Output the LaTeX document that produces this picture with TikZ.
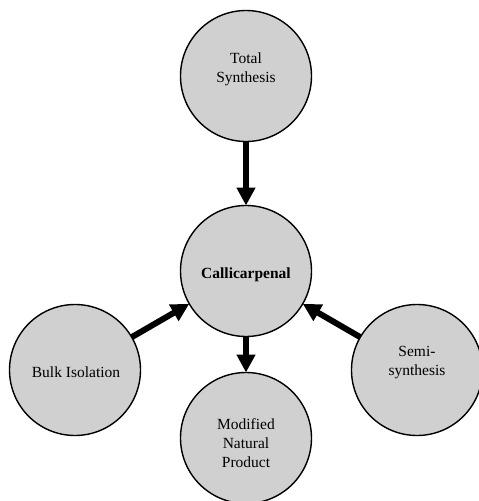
\documentclass[tikz,border=0pt]{standalone}
\usepackage{fontspec}
\setmainfont{Liberation Serif}
\usetikzlibrary{arrows.meta}
\definecolor{bubble}{RGB}{208,208,208}
\tikzset{
  bubble/.style={circle, draw=black, line width=1.4pt, fill=bubble, minimum size=131pt, inner sep=0pt, outer sep=0pt},
  lbl/.style={align=center, font=\fontsize{15.5}{19}\selectfont, inner sep=0pt},
  flow/.style={line width=6pt, -{Triangle[width=18pt,length=18pt]}}
}
\begin{document}
\begin{tikzpicture}[x=1pt,y=-1pt]
\useasboundingbox (0,0) rectangle (479,501);
\node[bubble] (ts) at (246,76) {};
\node[bubble] (cc) at (246,271) {};
\node[bubble] (bi) at (75,370) {};
\node[bubble] (ss) at (417,370) {};
\node[bubble] (mn) at (246,438) {};
\node[lbl] (tst) at (246,69) {Total\\Synthesis};
\node[lbl] (cct) at (246,275) {\textbf{Callicarpenal}};
\node[lbl] (bit) at (76,372) {Bulk Isolation};
\node[lbl] (sst) at (417,363) {Semi-\\synthesis};
\node[lbl] (mnt) at (246,443) {Modified\\Natural\\Product};
\draw[flow] (ts) -- (cc);
\draw[flow] (cc) -- (mn);
\draw[flow] (bi) -- (cc);
\draw[flow] (ss) -- (cc);
\end{tikzpicture}
\end{document}
